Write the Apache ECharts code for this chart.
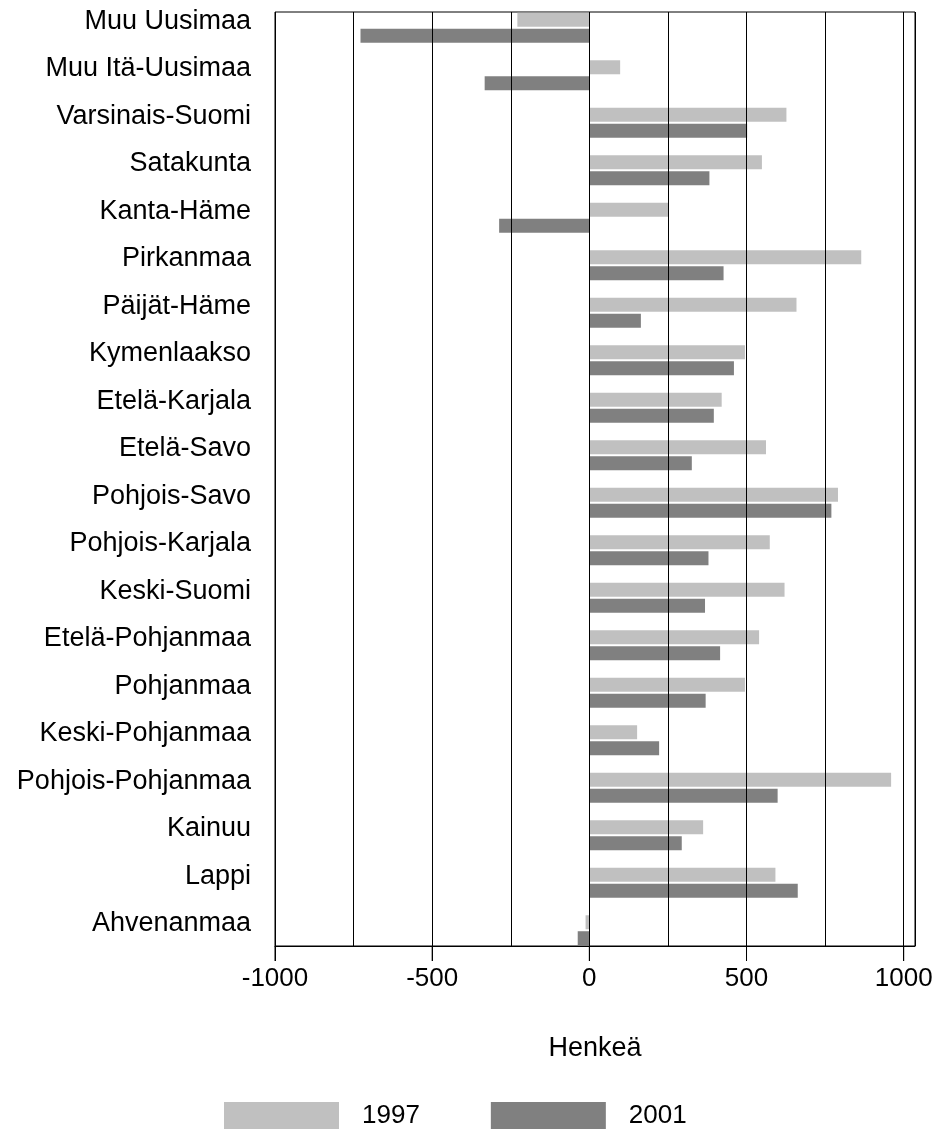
<!DOCTYPE html>
<html>
<head>
<meta charset="utf-8">
<script src="https://cdn.jsdelivr.net/npm/echarts@6/dist/echarts.min.js"></script>
<style>
html,body{margin:0;padding:0;background:#fff;}
#chart{width:937px;height:1131px;}
</style>
</head>
<body>
<div id="chart"></div>
<script>
const categories = ['Muu Uusimaa','Muu Itä-Uusimaa','Varsinais-Suomi','Satakunta','Kanta-Häme','Pirkanmaa','Päijät-Häme','Kymenlaakso','Etelä-Karjala','Etelä-Savo','Pohjois-Savo','Pohjois-Karjala','Keski-Suomi','Etelä-Pohjanmaa','Pohjanmaa','Keski-Pohjanmaa','Pohjois-Pohjanmaa','Kainuu','Lappi','Ahvenanmaa'];
const values1997 = [-229, 98, 627, 549, 253, 865, 659, 495, 421, 562, 791, 574, 621, 540, 495, 152, 960, 362, 592, -12];
const values2001 = [-728, -333, 502, 382, -287, 427, 164, 460, 396, 326, 770, 379, 368, 416, 370, 222, 599, 294, 663, -37];
const tickLabels = [-1000, -500, 0, 500, 1000];
const seriesNames = ['1997', '2001'];
const axisTitle = 'Henkeä';

const FONT = '"Liberation Sans", Arial, sans-serif';
const AXIS_MIN = -1000, AXIS_MAX = 1036;
const GRID_LEFT = 275, GRID_RIGHT = 22, CHART_W = 937;
const plotW = CHART_W - GRID_LEFT - GRID_RIGHT;
// right offset of a grid whose extent ends exactly at the last labelled tick
const tickGridRight = CHART_W - (GRID_LEFT + plotW * (tickLabels[tickLabels.length - 1] - AXIS_MIN) / (AXIS_MAX - AXIS_MIN));

const chart = echarts.init(document.getElementById('chart'), null, {renderer: 'canvas'});
chart.setOption({
  animation: false,
  backgroundColor: '#ffffff',
  textStyle: {fontFamily: FONT},
  grid: [
    {left: GRID_LEFT, right: GRID_RIGHT, top: 12, bottom: 185, show: true, borderColor: '#000', borderWidth: 1, backgroundColor: 'transparent'},
    {left: GRID_LEFT, right: GRID_RIGHT, top: 4, bottom: 177},
    {left: GRID_LEFT, right: tickGridRight, top: 12, bottom: 170},
    {left: GRID_LEFT, right: GRID_RIGHT, top: 946, bottom: 170}
  ],
  legend: {
    data: seriesNames,
    left: 219, top: 1097,
    itemWidth: 115, itemHeight: 27, itemGap: 71,
    icon: 'rect',
    textStyle: {fontSize: 26, color: '#000', fontFamily: FONT, padding: [0, 0, 0, 18]}
  },
  xAxis: [
    {
      gridIndex: 0, type: 'value', position: 'bottom', min: AXIS_MIN, max: AXIS_MAX, interval: 250, z: 5,
      name: axisTitle, nameLocation: 'middle', nameGap: 89,
      nameTextStyle: {fontSize: 27, color: '#000', fontFamily: FONT},
      axisLine: {show: true, lineStyle: {color: '#000', width: 1}},
      axisTick: {show: false},
      axisLabel: {show: false},
      splitLine: {show: true, lineStyle: {color: '#000', width: 1}}
    },
    {gridIndex: 1, type: 'value', min: AXIS_MIN, max: AXIS_MAX, show: false, splitLine: {show: false}},
    {
      gridIndex: 2, type: 'value', position: 'bottom', min: tickLabels[0], max: tickLabels[tickLabels.length - 1], interval: 500, z: 6,
      axisLine: {show: false},
      axisTick: {show: false},
      axisLabel: {show: true, margin: 5, fontSize: 26, color: '#000', fontFamily: FONT,
        formatter: function (v) { return String(v); }},
      splitLine: {show: true, lineStyle: {color: '#000', width: 1}}
    },
    {
      gridIndex: 3, type: 'value', position: 'bottom', min: AXIS_MIN, max: AXIS_MAX, z: 6,
      axisLine: {show: false}, axisTick: {show: false}, axisLabel: {show: false}, splitLine: {show: false}
    }
  ],
  yAxis: [
    {gridIndex: 0, type: 'category', data: categories, inverse: true, show: false},
    {
      gridIndex: 1, type: 'category', data: categories, inverse: true,
      axisLine: {show: false}, axisTick: {show: false}, splitLine: {show: false},
      axisLabel: {margin: 24, fontSize: 27, color: '#000', fontFamily: FONT, verticalAlign: 'bottom', lineHeight: 13}
    },
    {gridIndex: 2, type: 'category', data: categories, inverse: true, show: false},
    {gridIndex: 3, type: 'value', min: 0, max: 1, show: false, splitLine: {show: false}}
  ],
  series: [
    {name: seriesNames[0], type: 'bar', xAxisIndex: 1, yAxisIndex: 1, data: values1997, barWidth: 14, barGap: '14%', itemStyle: {color: '#C0C0C0'}},
    {name: seriesNames[1], type: 'bar', xAxisIndex: 1, yAxisIndex: 1, data: values2001, barWidth: 14, barGap: '14%', itemStyle: {color: '#808080'}},
    {
      name: 'ticks', type: 'scatter', xAxisIndex: 3, yAxisIndex: 3, silent: true, z: 10,
      data: tickLabels.map(function (v) { return [v, 0.5]; }),
      symbol: 'rect', symbolSize: [1, 15],
      itemStyle: {color: '#000', opacity: 1},
      emphasis: {disabled: true}
    }
  ]
});
</script>
</body>
</html>
